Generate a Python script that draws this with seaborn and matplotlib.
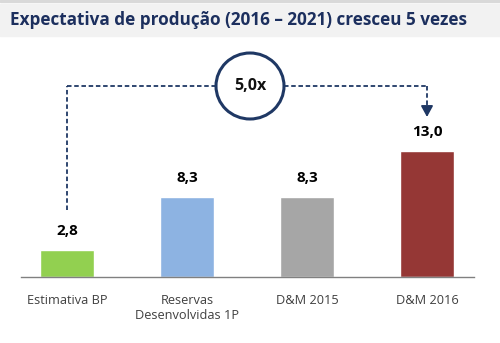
import matplotlib
matplotlib.use("Agg")
import matplotlib.pyplot as plt
from matplotlib.patches import Rectangle, Ellipse
import seaborn as sns
import pandas as pd

categories = ["Estimativa BP", "Reservas\nDesenvolvidas 1P", "D&M 2015", "D&M 2016"]
values = [2.8, 8.3, 8.3, 13.0]
value_labels = ["2,8", "8,3", "8,3", "13,0"]
colors = ["#92d050", "#8db3e2", "#a6a6a6", "#953735"]
title = "Expectativa de produção (2016 – 2021) cresceu 5 vezes"
growth_label = "5,0x"

sns.set_theme(style="white")
plt.rcParams["font.family"] = ["Open Sans", "DejaVu Sans"]

W, H = 500, 343
fig = plt.figure(figsize=(W / 100, H / 100), dpi=100)

# title band
fig.patches.append(Rectangle((0, 1 - 2 / H), 1, 2 / H, transform=fig.transFigure,
                             color="#d9d9d9", zorder=0))
fig.patches.append(Rectangle((0, 1 - 36 / H), 1, 32 / H, transform=fig.transFigure,
                             color="#f2f2f2", zorder=0))
fig.text(10 / W, 1 - 20 / H, title, ha="left", va="center", fontsize=12.3,
         fontweight="bold", color="#1c2f5e")

# plotting area
base_y, top_y = 277, 40
left_x, right_x = 21, 474
ax = fig.add_axes([left_x / W, 1 - base_y / H, (right_x - left_x) / W, (base_y - top_y) / H])
ax.set_facecolor("none")

df = pd.DataFrame({"cat": categories, "val": values})
sns.barplot(data=df, x="cat", y="val", hue="cat", palette=colors, width=0.45,
            legend=False, ax=ax, saturation=1)

px_per_unit = 126 / 13.0
ax.set_ylim(0, (base_y - top_y) / px_per_unit)
ax.set_xlim(-46 / 120, 3 + 47 / 120)

for i, (v, lab) in enumerate(zip(values, value_labels)):
    ax.text(i, v + 19 / px_per_unit, lab, ha="center", va="center", fontsize=11,
            fontweight="bold", color="black")

ax.set_xlabel("")
ax.set_ylabel("")
ax.set_yticks([])
ax.tick_params(axis="x", length=0, pad=12, labelsize=9.2, labelcolor="#404040")
for s in ["top", "right", "left"]:
    ax.spines[s].set_visible(False)
ax.spines["bottom"].set_color("#808080")
ax.spines["bottom"].set_linewidth(1)

# growth connector
navy = "#1f3864"
dash = (0, (2.5, 1.5))
yh = (base_y - 86) / px_per_unit
y_left_end = (base_y - 210) / px_per_unit
y_arrow = (base_y - 117) / px_per_unit
circ_cx = (250 - 67) / 120
circ_rx = 34 / 120
ax.plot([0, 0], [y_left_end, yh], ls=dash, color=navy, lw=1.3, clip_on=False)
ax.plot([0, circ_cx - circ_rx], [yh, yh], ls=dash, color=navy, lw=1.3, clip_on=False)
ax.plot([circ_cx + circ_rx, 3], [yh, yh], ls=dash, color=navy, lw=1.3, clip_on=False)
ax.plot([3, 3], [yh, y_arrow + 8 / px_per_unit], ls=dash, color=navy, lw=1.3,
        clip_on=False)
ax.annotate("", xy=(3, y_arrow), xytext=(3, y_arrow + 9 / px_per_unit),
            arrowprops=dict(arrowstyle="-|>,head_width=0.3,head_length=0.55", color=navy,
                            lw=1.3, shrinkA=0, shrinkB=0))
ax.add_patch(Ellipse((circ_cx, yh), 2 * circ_rx, 66 / px_per_unit, fill=False,
                     edgecolor=navy, lw=2.2, clip_on=False, zorder=5))
ax.text(circ_cx, yh, growth_label, ha="center", va="center", fontsize=11.5,
        fontweight="bold", color="#111111")

fig.savefig("out.png", dpi=100)
